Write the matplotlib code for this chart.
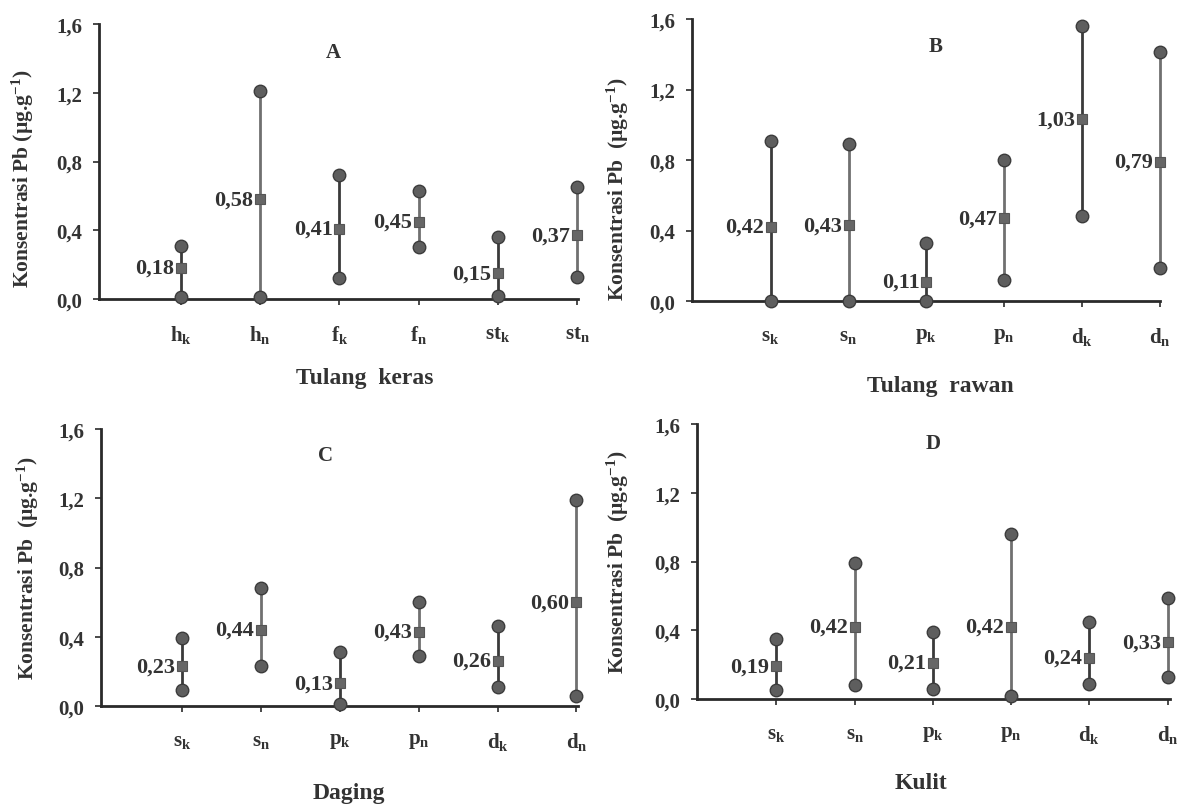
import matplotlib
matplotlib.use("Agg")
import matplotlib.pyplot as plt

plt.rcParams['font.family'] = ['Liberation Serif', 'DejaVu Serif']
plt.rcParams['font.weight'] = 'bold'
plt.rcParams['mathtext.fontset'] = 'custom'
plt.rcParams['mathtext.rm'] = 'Liberation Serif:bold'
plt.rcParams['mathtext.it'] = 'Liberation Serif:bold'
plt.rcParams['mathtext.bf'] = 'Liberation Serif:bold'

# ---------------- data ----------------
labels_A = ["h$_{\\mathrm{k}}$", "h$_{\\mathrm{n}}$", "f$_{\\mathrm{k}}$", "f$_{\\mathrm{n}}$",
            "st$_{\\mathrm{k}}$", "st$_{\\mathrm{n}}$"]
labels_BCD = ["s$_{\\mathrm{k}}$", "s$_{\\mathrm{n}}$", "p$_{\\mathrm{k}}$", "p$_{\\mathrm{n}}$",
              "d$_{\\mathrm{k}}$", "d$_{\\mathrm{n}}$"]

A_min = [0.01, 0.01, 0.12, 0.30, 0.02, 0.13]
A_max = [0.31, 1.21, 0.72, 0.63, 0.36, 0.65]
A_mean = [0.18, 0.58, 0.41, 0.45, 0.15, 0.37]

B_min = [0.00, 0.00, 0.00, 0.12, 0.48, 0.19]
B_max = [0.91, 0.89, 0.33, 0.80, 1.56, 1.41]
B_mean = [0.42, 0.43, 0.11, 0.47, 1.03, 0.79]

C_min = [0.09, 0.23, 0.01, 0.29, 0.11, 0.06]
C_max = [0.39, 0.68, 0.31, 0.60, 0.46, 1.19]
C_mean = [0.23, 0.44, 0.13, 0.43, 0.26, 0.60]

D_min = [0.05, 0.08, 0.06, 0.02, 0.09, 0.13]
D_max = [0.35, 0.79, 0.39, 0.96, 0.45, 0.59]
D_mean = [0.19, 0.42, 0.21, 0.42, 0.24, 0.33]

yticks = [0.0, 0.4, 0.8, 1.2, 1.6]
ytick_labels = ["0,0", "0,4", "0,8", "1,2", "1,6"]

W, H = 1184, 812
fig = plt.figure(figsize=(W / 100, H / 100), dpi=100)
fig.patch.set_facecolor('white')

TXT = '#333333'
line_cols = ['#3a3a3a', '#707070']


def panel(rect_px, xlim, cats, vmin, vmax, vmean, letter, letter_pos, xlabel, xlabel_pos,
          ylabel, ylabel_pos):
    l, r, t, b = rect_px
    ax = fig.add_axes([l / W, 1 - b / H, (r - l) / W, (b - t) / H])
    xs = list(range(1, len(cats) + 1))
    for i, x in enumerate(xs):
        col = line_cols[i % 2]
        ax.plot([x, x], [vmin[i], vmax[i]], color=col, lw=2.0, zorder=2, clip_on=False)
        ax.plot([x, x], [vmin[i], vmax[i]], ls='none', marker='o', ms=9,
                mfc='#5e5e5e', mec='#3c3c3c', mew=1.0, zorder=4, clip_on=False)
        ax.plot([x], [vmean[i]], ls='none', marker='s', ms=7.5, mfc='#666666',
                mec='#555555', mew=0.8, zorder=5, clip_on=False)
        ax.annotate(("%.2f" % vmean[i]).replace('.', ','), (x, vmean[i]),
                    xytext=(-5, 0), textcoords='offset points', ha='right', va='center',
                    fontsize=16, fontweight='bold', color=TXT, zorder=6)
    ax.set_xlim(*xlim)
    ax.set_ylim(0, 1.6)
    ax.set_yticks(yticks)
    ax.set_yticklabels(ytick_labels)
    ax.set_xticks(xs)
    ax.set_xticklabels(cats)
    for s in ['top', 'right']:
        ax.spines[s].set_visible(False)
    for s in ['left', 'bottom']:
        ax.spines[s].set_color('#2a2a2a')
        ax.spines[s].set_linewidth(2.0)
    ax.tick_params(axis='y', direction='out', length=4, width=1.2, color='#2a2a2a',
                   labelsize=15, labelcolor=TXT, pad=8)
    ax.tick_params(axis='x', direction='out', length=4, width=1.2, color='#2a2a2a',
                   labelsize=15, labelcolor=TXT, pad=13)
    ax.text(letter_pos[0], letter_pos[1], letter, transform=ax.transAxes, ha='center',
            va='center', fontsize=15, fontweight='bold', color=TXT)
    ax.set_xlabel(xlabel, fontsize=17, fontweight='bold', color=TXT)
    ax.xaxis.set_label_coords(*xlabel_pos)
    ax.xaxis.label.set_va('center')
    ax.set_ylabel(ylabel, fontsize=15.5, fontweight='bold', color=TXT)
    ax.yaxis.set_label_coords(*ylabel_pos)
    ax.yaxis.label.set_va('center')
    ax.patch.set_alpha(0)
    return ax


panel((99, 578, 25, 300), (-0.035, 6.01), labels_A, A_min, A_max, A_mean,
      'A', (0.49, 0.898), 'Tulang  keras', (0.555, -0.284),
      'Konsentrasi Pb (µg.g$^{\\mathrm{-1}}$)', (-0.159, 0.44))
panel((692, 1160, 20, 302), (-0.01, 5.98), labels_BCD, B_min, B_max, B_mean,
      'B', (0.52, 0.904), 'Tulang  rawan', (0.53, -0.30),
      'Konsentrasi Pb  (µg.g$^{\\mathrm{-1}}$)', (-0.158, 0.40))
panel((101, 578, 430, 707), (-0.03, 6.02), labels_BCD, C_min, C_max, C_mean,
      'C', (0.47, 0.906), 'Daging', (0.52, -0.314),
      'Konsentrasi Pb  (µg.g$^{\\mathrm{-1}}$)', (-0.153, 0.50))
panel((697, 1170, 425, 700), (-0.015, 6.03), labels_BCD, D_min, D_max, D_mean,
      'D', (0.50, 0.93), 'Kulit', (0.474, -0.305),
      'Konsentrasi Pb  (µg.g$^{\\mathrm{-1}}$)', (-0.167, 0.50))

fig.savefig('out.png', dpi=100, facecolor='white')
